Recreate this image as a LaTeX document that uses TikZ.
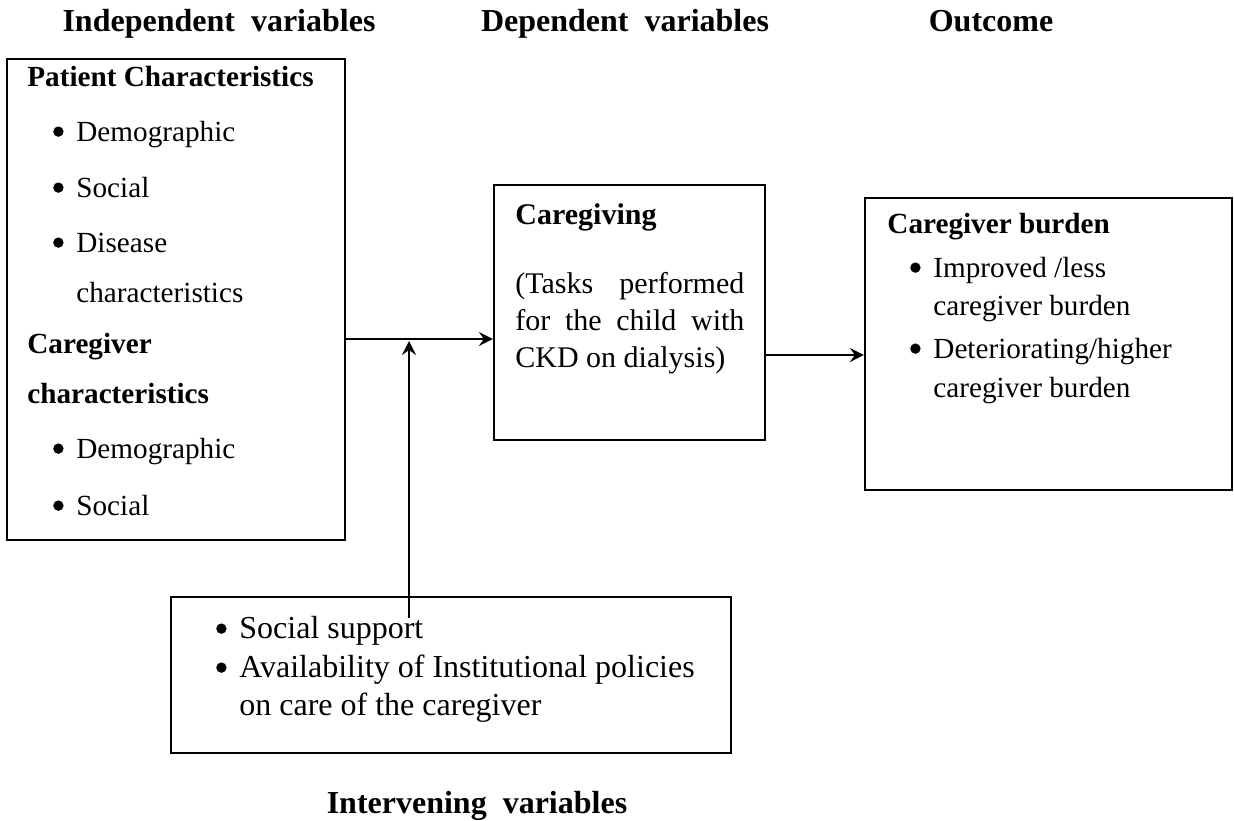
\documentclass[tikz,border=0pt]{standalone}
\usepackage{fontspec}
\setmainfont{Liberation Serif}
\usetikzlibrary{arrows.meta, positioning, calc}
\tikzset{
	box/.style={draw, line width=1.1pt, inner sep=0pt},
	txt/.style={anchor=base west, inner sep=0pt, font=\fontsize{14.6}{17.5}\selectfont},
	midtxt/.style={txt, font=\fontsize{15}{18}\selectfont},
	bigtxt/.style={txt, font=\fontsize{16}{19}\selectfont},
	head/.style={anchor=base, inner sep=0pt, font=\fontsize{16}{19}\selectfont\bfseries},
	link/.style={line width=0.9pt, -{Stealth[length=7pt, width=7pt, inset=2.5pt]}}
}
% round list bullet, a little larger than the font's own
\newcommand{\bul}{\makebox[11.25pt][l]{\hspace{-0.35pt}\tikz[baseline={(0pt,-4.7pt)}]\fill (0pt,0pt) circle (2.6pt);}}

\begin{document}
\begin{tikzpicture}[x=0.5pt, y=-0.5pt]
		\useasboundingbox (0,0) rectangle (1234,820);
		
		% Column headings
		\node[head] (hIndep) at (219,31) {Independent~~variables};
		\node[head] (hDep) at (625,31) {Dependent~~variables};
		\node[head] (hOut) at (991,31) {Outcome};
		\node[head] (hInt) at (477,813) {Intervening~~variables};
		
		% The four boxes
		\node[box, minimum width=169pt, minimum height=240.5pt] (indep) at (176,299.5) {};
		\node[box, minimum width=135.5pt, minimum height=127.5pt] (dep) at (629.5,312.5) {};
		\node[box, minimum width=183.5pt, minimum height=146pt] (burden) at (1048.5,344) {};
		\node[box, minimum width=280pt, minimum height=78pt] (interv) at (451,675) {};
		
		% Independent variables
		\node[txt] (pc) at (27,86) {\bfseries Patient Characteristics};
		\node[txt] (pc1) at (53.5,141) {\bul Demographic};
		\node[txt] (pc2) at (53.5,197) {\bul Social};
		\node[txt] (pc3) at (53.5,252) {\bul Disease};
		\node[txt] (pc3b) at (76,302) {characteristics};
		\node[txt] (cc) at (27,353) {\bfseries Caregiver};
		\node[txt] (ccb) at (27,403) {\bfseries characteristics};
		\node[txt] (cc1) at (53.5,458) {\bul Demographic};
		\node[txt] (cc2) at (53.5,515) {\bul Social};
		
		% Dependent variables
		\node[midtxt] (cg) at (515,224) {\bfseries Caregiving};
		\node[midtxt] (cg1) at (515,293) {\makebox[114.5pt][s]{(Tasks performed}};
		\node[midtxt] (cg2) at (515,330) {\makebox[114.5pt][s]{for the child with}};
		\node[midtxt] (cg3) at (515,367) {CKD on dialysis)};
		
		% Outcome
		\node[txt] (cb) at (887,233) {\bfseries Caregiver burden};
		\node[txt] (cb1) at (910.5,277) {\bul Improved /less};
		\node[txt] (cb1b) at (933,315) {caregiver burden};
		\node[txt] (cb2) at (910.5,358) {\bul Deteriorating/higher};
		\node[txt] (cb2b) at (933,397) {caregiver burden};
		
		% Intervening variables
		\node[bigtxt] (iv1) at (216.5,638) {\bul Social support};
		\node[bigtxt] (iv2) at (216.5,677) {\bul Availability of Institutional policies};
		\node[bigtxt] (iv2b) at (239,715) {on care of the caregiver};
		
		% Arrows
		\coordinate (join) at (409,339);
		\coordinate (joinb) at (409,341);
		\coordinate (foot) at (409,618);
		\coordinate (lvl) at (0,355);
		\draw[link] (join -| indep.east) -- (join -| dep.west);
		\draw[link] (foot) -- (joinb);
		\draw[link] (lvl -| dep.east) -- (lvl -| burden.west);
		
	\end{tikzpicture}
\end{document}
